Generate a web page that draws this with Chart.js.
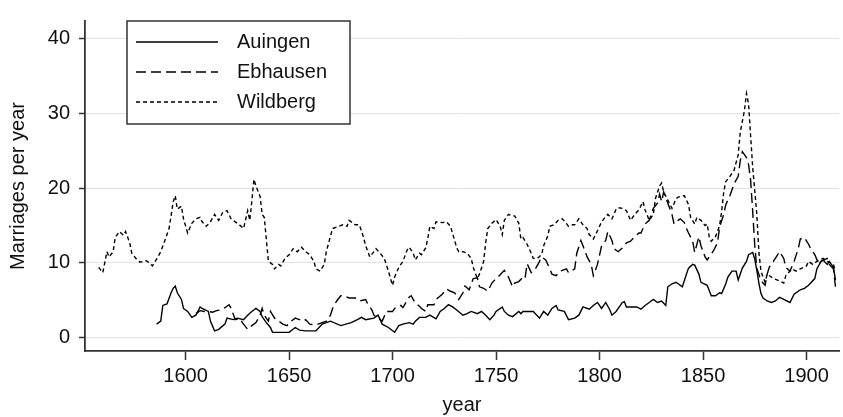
<!DOCTYPE html>
<html>
<head>
<meta charset="utf-8">
<script src="https://cdn.jsdelivr.net/npm/chart.js@4"></script>
<style>
html, body { margin: 0; padding: 0; background: #fff; }
canvas { display: block; }
</style>
</head>
<body>
<canvas id="chart" width="843" height="417"></canvas>
<script>
// values
const auingenYears = [1586,1588,1589,1591,1593,1594,1595,1596,1598,1599,1601,1603,1605,1607,1608,1611,1612,1614,1616,1619,1620,1623,1625,1628,1630,1632,1634,1636,1637,1639,1641,1642,1650,1653,1655,1658,1663,1666,1670,1675,1680,1683,1685,1687,1691,1693,1695,1698,1701,1703,1705,1708,1710,1711,1713,1716,1718,1721,1723,1725,1727,1729,1731,1734,1736,1738,1741,1743,1745,1747,1749,1750,1753,1754,1756,1758,1761,1762,1763,1766,1768,1771,1773,1775,1777,1779,1780,1783,1785,1788,1790,1792,1795,1797,1799,1801,1803,1805,1806,1808,1811,1812,1813,1815,1818,1820,1822,1824,1826,1828,1830,1832,1833,1835,1837,1838,1840,1842,1843,1845,1846,1848,1849,1852,1854,1856,1858,1859,1861,1862,1864,1866,1867,1869,1871,1872,1874,1875,1876,1877,1878,1879,1881,1883,1885,1887,1889,1892,1894,1897,1899,1901,1904,1905,1907,1908,1910,1911,1913,1914];
const auingenValues = [1.8,2.2,4.3,4.5,6.0,6.6,6.9,6.0,5.1,3.9,3.5,2.7,3.0,4.1,3.9,3.5,2.2,0.9,1.1,1.8,2.6,2.4,2.6,2.4,3.0,3.5,3.9,3.5,2.8,2.0,1.35,0.7,0.7,1.35,1.0,0.9,0.9,1.8,2.2,1.6,2.0,2.4,2.7,2.4,2.6,3.0,1.8,1.35,0.7,1.6,1.8,2.0,1.8,2.2,2.7,2.7,3.0,2.5,3.5,3.9,4.4,4.1,3.7,3.0,3.2,3.5,3.2,3.5,3.0,2.4,3.0,3.5,4.1,3.5,3.0,2.8,3.5,3.2,3.5,3.5,3.5,2.6,3.5,3.0,3.9,4.3,3.7,3.5,2.4,2.6,3.0,4.1,3.8,4.3,4.7,3.9,4.7,3.7,3.0,3.5,4.7,4.8,4.1,4.1,4.1,3.8,4.3,4.7,5.1,4.7,4.9,4.3,6.8,7.2,7.4,7.2,6.8,8.5,9.3,9.8,9.7,8.5,7.4,7.0,5.6,5.6,6.0,5.9,7.2,8.1,8.9,8.9,7.7,9.3,10.2,11.1,11.4,10.5,9.0,7.3,5.9,5.3,4.9,4.7,4.9,5.4,5.1,4.7,5.8,6.4,6.6,7.0,7.9,9.2,10.2,10.4,9.8,10.2,9.4,7.7];

const ebhausenYears = [1605,1607,1609,1611,1613,1615,1617,1619,1621,1622,1624,1626,1628,1630,1632,1634,1636,1637,1638,1640,1641,1643,1645,1647,1649,1651,1653,1655,1657,1658,1660,1663,1666,1668,1670,1671,1673,1675,1676,1679,1682,1684,1687,1688,1690,1691,1694,1695,1697,1700,1701,1704,1705,1708,1709,1711,1713,1714,1716,1717,1720,1721,1724,1726,1728,1730,1732,1734,1735,1737,1739,1741,1742,1744,1746,1748,1750,1752,1754,1756,1758,1759,1761,1763,1764,1765,1767,1769,1771,1772,1774,1776,1777,1779,1781,1784,1785,1788,1789,1791,1792,1794,1796,1797,1799,1801,1803,1804,1806,1807,1809,1811,1813,1815,1817,1819,1820,1822,1824,1825,1826,1828,1829,1830,1831,1833,1835,1836,1838,1839,1841,1842,1843,1845,1846,1848,1849,1851,1852,1853,1855,1857,1858,1860,1861,1863,1865,1867,1868,1869,1871,1872,1873,1874,1875,1876,1878,1880,1881,1882,1884,1887,1889,1890,1892,1894,1896,1897,1899,1901,1902,1904,1906,1907,1910,1911,1913,1914];
const ebhausenValues = [3.2,3.6,3.5,3.5,3.4,3.6,3.7,4.0,4.4,3.9,2.4,2.6,1.8,1.1,1.6,2.0,3.0,3.9,3.0,2.2,3.5,2.6,2.2,1.8,1.6,2.2,2.6,2.4,2.2,2.4,1.8,1.7,2.0,2.2,3.0,3.9,4.9,5.6,5.65,5.3,5.3,4.9,5.1,4.5,3.7,3.0,2.4,2.2,3.5,3.5,3.9,4.3,4.0,5.4,5.6,4.6,4.2,3.9,3.5,4.4,4.4,5.1,5.8,6.5,6.2,6.0,5.1,6.0,6.9,6.4,7.9,8.0,6.8,6.6,6.2,7.3,7.9,8.4,9.0,8.1,6.8,7.3,7.5,8.1,7.9,9.9,8.7,9.2,10.2,10.8,10.4,9.2,8.5,8.3,8.9,9.2,8.7,9.2,11.3,13.0,12.3,10.8,9.8,8.3,9.8,12.3,13.0,14.2,13.0,11.9,11.5,12.0,12.7,12.9,13.5,14.0,14.0,15.2,15.7,16.5,17.3,18.0,19.2,18.2,19.5,18.0,16.5,15.2,15.7,15.9,15.4,14.6,14.0,12.9,11.4,13.5,12.3,10.8,10.4,10.8,11.6,12.7,14.8,16.5,17.8,19.0,20.6,21.6,23.7,24.9,24.1,23.2,21.1,16.9,12.3,9.3,7.6,7.0,8.5,9.4,10.2,11.5,10.6,9.4,8.9,10.2,11.9,13.2,13.4,12.5,11.9,11.1,9.8,10.2,10.6,9.8,9.2,6.8];

const wildbergYears = [1558,1560,1562,1563,1565,1566,1568,1570,1571,1573,1574,1576,1578,1581,1582,1584,1586,1588,1590,1592,1593,1594,1595,1596,1598,1599,1601,1603,1605,1607,1608,1610,1612,1614,1616,1618,1620,1622,1624,1626,1628,1630,1631,1632,1633,1634,1636,1637,1638,1639,1640,1642,1643,1645,1646,1648,1650,1652,1654,1656,1658,1660,1662,1663,1665,1667,1668,1670,1671,1674,1676,1678,1679,1682,1684,1686,1687,1689,1691,1692,1694,1696,1698,1699,1700,1701,1703,1705,1707,1708,1710,1711,1713,1714,1716,1717,1718,1720,1721,1724,1726,1728,1730,1731,1732,1734,1736,1738,1739,1741,1742,1744,1745,1746,1748,1750,1752,1753,1754,1756,1758,1759,1761,1762,1763,1765,1767,1768,1770,1772,1773,1775,1776,1778,1780,1782,1784,1785,1787,1788,1790,1792,1794,1795,1797,1799,1801,1803,1804,1806,1808,1809,1811,1813,1815,1817,1819,1821,1822,1824,1826,1827,1829,1830,1831,1833,1835,1837,1838,1840,1841,1843,1844,1846,1847,1849,1851,1852,1853,1854,1856,1858,1859,1860,1861,1863,1865,1867,1868,1870,1871,1872,1873,1874,1876,1877,1878,1879,1880,1881,1884,1886,1889,1890,1893,1895,1897,1900,1901,1903,1905,1908,1910,1913,1914];
const wildbergValues = [9.4,8.7,11.5,10.8,11.5,13.4,14.2,13.7,14.2,12.7,11.3,10.6,10.1,10.3,10.1,9.6,10.5,11.5,13.0,14.6,16.3,18.2,19.0,17.2,17.6,15.9,14.0,15.3,15.9,16.1,15.5,14.9,15.5,16.5,15.7,16.8,17.0,15.9,15.5,15.1,14.6,17.0,15.7,18.2,21.2,20.3,18.9,16.5,16.1,13.2,10.2,9.8,9.2,9.8,9.6,10.6,11.1,11.9,11.5,12.1,11.5,11.1,10.2,9.2,8.9,9.8,11.5,13.6,14.6,14.9,15.1,14.9,15.7,15.1,15.1,13.4,12.3,10.8,11.5,11.9,11.3,10.6,8.9,7.9,7.0,8.1,9.4,10.2,11.7,12.1,11.3,10.4,11.3,11.1,12.0,13.2,14.9,14.6,15.5,15.4,15.5,14.9,13.0,12.0,11.5,11.5,11.3,10.6,9.4,7.9,8.5,10.2,12.7,14.6,15.3,15.8,14.9,13.8,15.7,16.5,16.3,16.3,15.3,13.2,13.4,12.5,11.3,10.6,10.6,11.1,12.3,13.6,14.9,15.1,15.7,15.9,15.3,14.9,15.1,15.1,15.9,15.1,14.6,13.8,13.2,14.3,15.5,16.2,16.5,15.9,17.2,17.4,17.3,17.0,15.7,16.5,17.1,18.2,17.1,15.7,16.5,18.6,20.3,20.7,19.5,18.4,17.3,18.6,18.8,19.0,19.0,17.8,16.1,15.2,16.1,15.7,15.0,15.2,13.5,12.9,13.5,15.0,16.9,19.5,20.9,21.6,22.4,24.5,27.5,30.4,32.7,31.3,27.0,22.8,16.5,11.4,8.9,8.1,7.4,8.5,7.9,7.7,7.3,8.3,9.2,8.9,9.2,9.6,10.2,9.8,10.2,10.6,10.2,9.8,8.9];

const seriesNames = ['Auingen', 'Ebhausen', 'Wildberg'];
const xTicks = [1600, 1650, 1700, 1750, 1800, 1850, 1900];
const yTicks = [0, 10, 20, 30, 40];

const FONT = "'Liberation Sans', Arial, Helvetica, sans-serif";
Chart.defaults.font.family = FONT;
Chart.defaults.font.size = 20;
Chart.defaults.color = '#111';

function toPoints(xs, ys) {
    return xs.map((x, i) => ({x: x, y: ys[i]}));
}

function lineStyle(dash) {
    return {
	borderColor: '#000',
	borderWidth: 1.4,
	borderDash: dash,
	pointRadius: 0,
	tension: 0,
	fill: false,
    };
}

// legend box drawn inside the plot, like the Stata original
const legendBox = {
    id: 'legendBox',
    afterDatasetsDraw(chart) {
	const ctx = chart.ctx;
	ctx.save();
	ctx.fillStyle = '#fff';
	ctx.fillRect(127, 21, 223, 103);
	ctx.strokeStyle = '#333';
	ctx.lineWidth = 1.5;
	ctx.strokeRect(127, 21, 223, 103);
	chart.data.datasets.forEach((ds, i) => {
	    const y = 42 + i * 30;
	    ctx.beginPath();
	    ctx.setLineDash(ds.borderDash || []);
	    ctx.lineWidth = ds.borderWidth;
	    ctx.strokeStyle = ds.borderColor;
	    ctx.moveTo(136, y);
	    ctx.lineTo(218, y);
	    ctx.stroke();
	    ctx.setLineDash([]);
	    ctx.fillStyle = '#111';
	    ctx.font = '20px ' + FONT;
	    ctx.textBaseline = 'middle';
	    ctx.fillText(ds.label, 237, y);
	});
	ctx.restore();
    }
};

new Chart(document.getElementById('chart'), {
    type: 'line',
    data: {
	datasets: [
	    {...lineStyle([]), label: seriesNames[0], data: toPoints(auingenYears, auingenValues)},
	    {...lineStyle([10, 5]), label: seriesNames[1], data: toPoints(ebhausenYears, ebhausenValues)},
	    {...lineStyle([4, 3]), label: seriesNames[2], data: toPoints(wildbergYears, wildbergValues)},
	],
    },
    options: {
	responsive: false,
	animation: false,
	devicePixelRatio: 1,
	layout: { padding: { left: 0, right: 4, top: 2, bottom: 0 } },
	plugins: { legend: { display: false }, tooltip: { enabled: false } },
	scales: {
	    x: {
		type: 'linear',
		min: 1551.4,
		max: 1915.7,
		afterBuildTicks: (s) => { s.ticks = xTicks.map(v => ({value: v})); },
		afterFit: (s) => { s.height = 66; },
		ticks: { callback: (v) => String(v), padding: 4, maxRotation: 0, autoSkip: false },
		grid: { drawOnChartArea: false, drawTicks: true, tickLength: 9, tickColor: '#333', tickWidth: 1.5 },
		border: { display: true, color: '#333', width: 1.8 },
		title: { display: true, text: 'year', padding: { top: 0, bottom: 0 } },
	    },
	    y: {
		min: -1.8,
		max: 42.4,
		afterBuildTicks: (s) => { s.ticks = yTicks.map(v => ({value: v})); },
		afterFit: (s) => { s.width = 85; },
		ticks: { callback: (v) => String(v), padding: 9 },
		grid: { color: '#e2e2e2', lineWidth: 1, drawTicks: true, tickLength: 6, tickColor: '#333', tickWidth: 1.5 },
		border: { display: true, color: '#333', width: 1.8 },
		title: { display: true, text: 'Marriages per year', padding: { top: 6, bottom: 0 } },
	    },
	},
    },
    plugins: [legendBox],
});
</script>
</body>
</html>
